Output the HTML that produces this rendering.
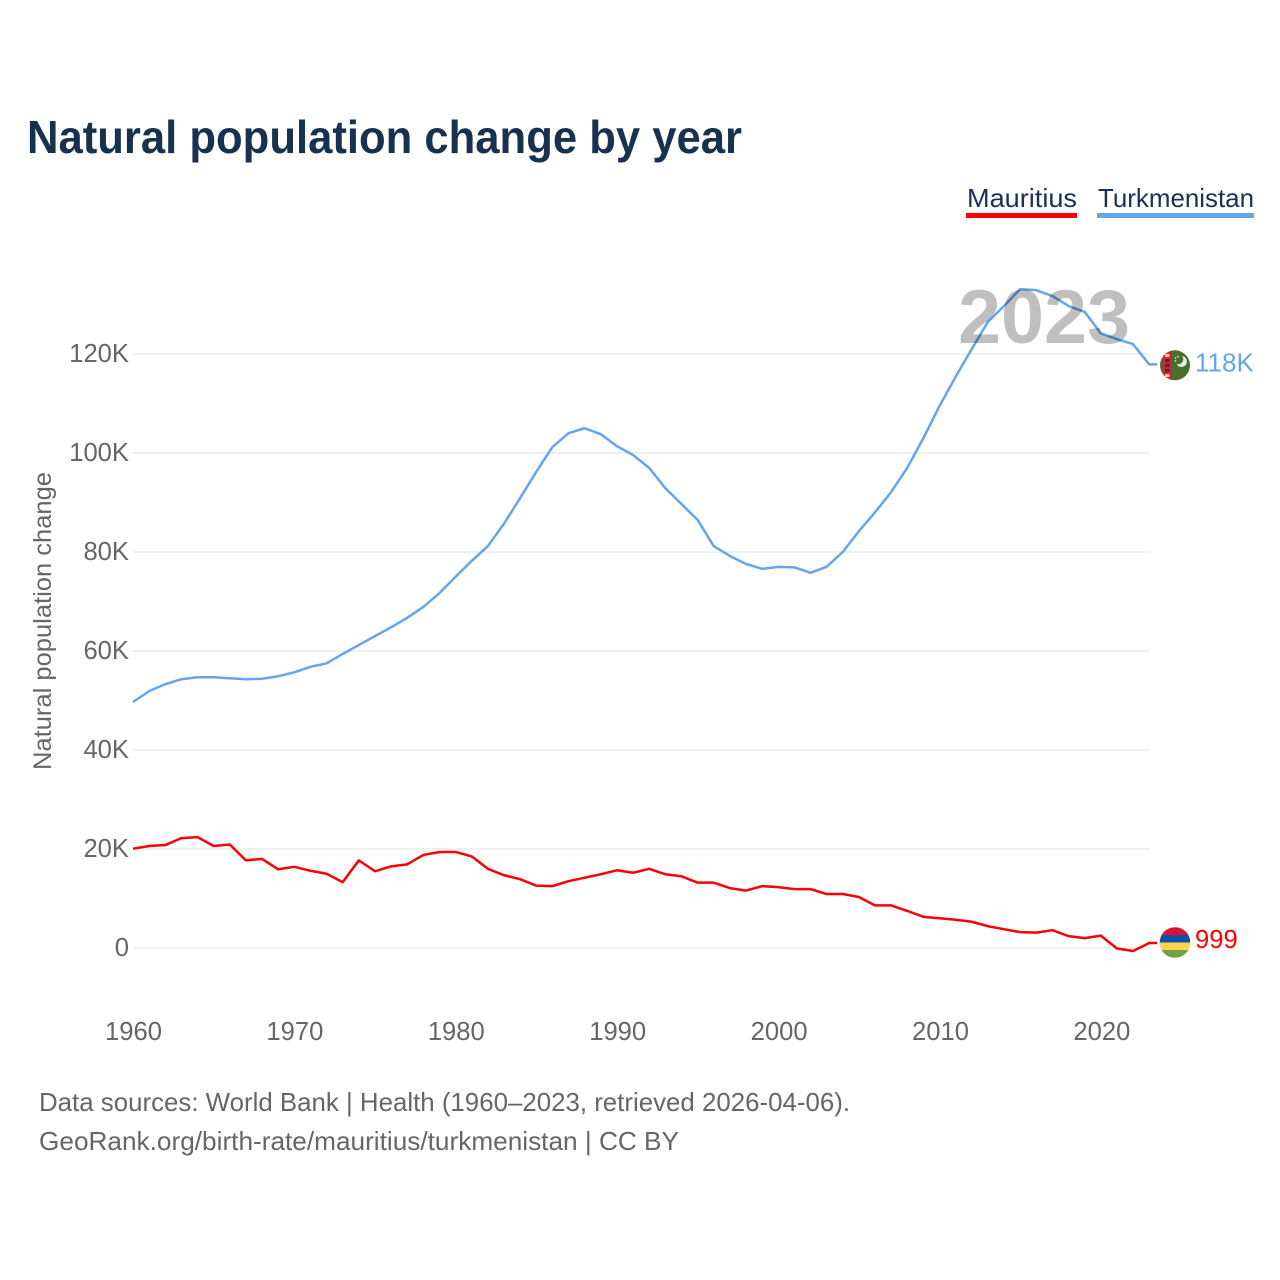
<!DOCTYPE html>
<html lang="en">
<head>
<meta charset="utf-8">
<title>Natural population change by year</title>
<style>
html,body{margin:0;padding:0;background:#fff;width:1280px;height:1280px;overflow:hidden}
svg{display:block}
text{font-family:"Liberation Sans",sans-serif}
</style>
</head>
<body>
<svg id="chart" xmlns="http://www.w3.org/2000/svg" width="1280" height="1280" viewBox="0 0 1280 1280">
  <rect x="0" y="0" width="1280" height="1280" fill="#fff"/>
  <text x="27" y="153" font-size="46" font-weight="700" fill="#17324f" textLength="715" lengthAdjust="spacingAndGlyphs">Natural population change by year</text>

  <g>
    <g>
      <text x="967" y="207" font-size="26" fill="#1a3153" textLength="110" lengthAdjust="spacingAndGlyphs">Mauritius</text>
      <rect x="966" y="213" width="111" height="5" fill="#ff0000"/>
    </g>
    <g>
      <text x="1098" y="207" font-size="26" fill="#1a3153" textLength="156" lengthAdjust="spacingAndGlyphs">Turkmenistan</text>
      <rect x="1097" y="213" width="157" height="5" fill="#63a6ec"/>
    </g>
  </g>

  <g id="grid"></g>
  <g id="yticks"></g>
  <g id="xticks"></g>
  <text transform="translate(51 621) rotate(-90)" text-anchor="middle" font-size="25" fill="#666" textLength="298" lengthAdjust="spacingAndGlyphs">Natural population change</text>

  <g id="series"></g>

  <text x="958" y="343" font-size="76" font-weight="700" fill="#000" fill-opacity="0.25" textLength="172" lengthAdjust="spacingAndGlyphs">2023</text>

  <defs>
    <clipPath id="clip-tm"><circle cx="1175" cy="365.3" r="15"/></clipPath>
    <clipPath id="clip-mu"><circle cx="1175" cy="942.5" r="15.3"/></clipPath>
  </defs>

  <g id="flag-tm" clip-path="url(#clip-tm)">
    <rect x="1160" y="350" width="30" height="31" fill="#496f2d"/>
    <rect x="1162.7" y="350" width="9" height="31" fill="#d9203a"/>
    <rect x="1165" y="354" width="4.5" height="3" fill="#f3c9a0"/>
    <rect x="1165" y="359" width="4.5" height="3" fill="#49302c"/>
    <rect x="1165" y="364" width="4.5" height="3" fill="#49302c"/>
    <rect x="1165" y="369" width="4.5" height="3" fill="#49302c"/>
    <rect x="1165" y="374" width="4.5" height="3" fill="#f3c9a0"/>
    <path d="M1182 356a5.5 5.5 0 1 1-5.5 8a5 5 0 0 0 5.5-8z" fill="#e8eee0"/>
    <circle cx="1175.5" cy="358" r="0.9" fill="#dfe8d8"/>
    <circle cx="1178" cy="356.6" r="0.9" fill="#dfe8d8"/>
    <circle cx="1175.5" cy="361" r="0.9" fill="#dfe8d8"/>
  </g>
  <g id="flag-mu" clip-path="url(#clip-mu)">
    <rect x="1159" y="927" width="32" height="8" fill="#dc0f35"/>
    <rect x="1159" y="935" width="32" height="7.5" fill="#0a51a8"/>
    <rect x="1159" y="942.5" width="32" height="7.5" fill="#ffd54f"/>
    <rect x="1159" y="950" width="32" height="8" fill="#6ea544"/>
  </g>

  <g id="end-labels"></g>

  <text x="39" y="1111" font-size="26" fill="#666" textLength="811" lengthAdjust="spacingAndGlyphs">Data sources: World Bank | Health (1960–2023, retrieved 2026-04-06).</text>
  <text x="39" y="1150" font-size="26" fill="#666" textLength="640" lengthAdjust="spacingAndGlyphs">GeoRank.org/birth-rate/mauritius/turkmenistan | CC BY</text>
</svg>
<script>
const firstYear = 1960;
const xTickLabels = [1960, 1970, 1980, 1990, 2000, 2010, 2020];
const yTickValues = [0, 20, 40, 60, 80, 100, 120];
const yTickLabels = ['0', '20K', '40K', '60K', '80K', '100K', '120K'];
const mauritiusValues = [
  20.06, 20.6, 20.8, 22.2, 22.4, 20.6, 20.9, 17.7, 18.0, 15.9,
  16.4, 15.6, 15.0, 13.3, 17.7, 15.5, 16.5, 16.9, 18.8, 19.4,
  19.4, 18.5, 16.0, 14.7, 13.9, 12.6, 12.5, 13.5, 14.2, 14.9,
  15.7, 15.2, 16.0, 14.9, 14.5, 13.2, 13.2, 12.1, 11.6, 12.5,
  12.3, 11.9, 11.9, 10.9, 10.9, 10.3, 8.6, 8.6, 7.5, 6.3,
  6.0, 5.7, 5.3, 4.4, 3.8, 3.2, 3.1, 3.6, 2.4, 2.0,
  2.5, -0.1, -0.6, 0.999
];
const turkmenistanValues = [
  49.7, 51.9, 53.3, 54.3, 54.7, 54.7, 54.5, 54.3, 54.4, 54.9,
  55.7, 56.8, 57.5, 59.4, 61.2, 63.0, 64.8, 66.7, 68.9, 71.7,
  75.0, 78.2, 81.2, 85.7, 90.9, 96.2, 101.2, 104.0, 105.0, 103.8,
  101.4, 99.6, 97.0, 92.9, 89.7, 86.5, 81.2, 79.2, 77.6, 76.6,
  77.0, 76.9, 75.8, 77.0, 80.0, 84.2, 88.0, 92.1, 97.0, 103.0,
  109.5, 115.4, 121.0, 126.5, 129.7, 133.1, 132.9, 131.7, 129.7, 128.5,
  124.2, 123.0, 122.0, 117.9
];
const mauritiusEndLabel = '999';
const turkmenistanEndLabel = '118K';

const NS = 'http://www.w3.org/2000/svg';
function xScale(year) { return 133 + (year - 1960) * 16.13; }
function xTickScale(year) { return 133.5 + (year - 1960) * 16.14; }
function yScale(v) { return 948 - v * 4.95; }
function make(tag, attrs, parent, txt) {
  const el = document.createElementNS(NS, tag);
  for (const k in attrs) el.setAttribute(k, attrs[k]);
  if (txt !== undefined) el.textContent = txt;
  parent.appendChild(el);
  return el;
}
const gridG = document.getElementById('grid');
const yG = document.getElementById('yticks');
const xG = document.getElementById('xticks');
const seriesG = document.getElementById('series');
const endG = document.getElementById('end-labels');

yTickValues.forEach(function (v, i) {
  const line = make('line', {x1: 133, x2: 1150, y1: yScale(v), y2: yScale(v), stroke: '#f0f0f0', 'stroke-width': 2}, gridG);
  
  
  const t = make('text', {x: 129, y: yScale(v) + 8, 'text-anchor': 'end', 'font-size': 25.6, fill: '#666'}, yG, yTickLabels[i]);
  
  
});
xTickLabels.forEach(function (yr) {
  const t = make('text', {x: xTickScale(yr), y: 1040, 'text-anchor': 'middle', 'font-size': 25.6, fill: '#666'}, xG, String(yr));
  
  
});
function linePoints(values) {
  const pts = values.map(function (v, i) {
    return xScale(firstYear + i).toFixed(2) + ',' + yScale(v).toFixed(2);
  });
  const lastX = xScale(firstYear + values.length - 1) + 8;
  pts.push(lastX.toFixed(2) + ',' + yScale(values[values.length - 1]).toFixed(2));
  return pts.join(' ');
}
const lineTm = make('polyline', {points: linePoints(turkmenistanValues), fill: 'none', stroke: '#63a6ec', 'stroke-width': 2.5, 'stroke-linejoin': 'round'}, seriesG);


const lineMu = make('polyline', {points: linePoints(mauritiusValues), fill: 'none', stroke: '#ff0000', 'stroke-width': 2.5, 'stroke-linejoin': 'round'}, seriesG);



const lastTm = turkmenistanValues[turkmenistanValues.length - 1];
const lastMu = mauritiusValues[mauritiusValues.length - 1];
const endTm = make('text', {x: 1195, y: yScale(lastTm) + 7, 'font-size': 26, fill: '#63a6ec'}, endG, turkmenistanEndLabel);


const endMu = make('text', {x: 1195, y: yScale(lastMu) + 5, 'font-size': 25.6, fill: '#ff0000'}, endG, mauritiusEndLabel);


</script>
</body>
</html>
